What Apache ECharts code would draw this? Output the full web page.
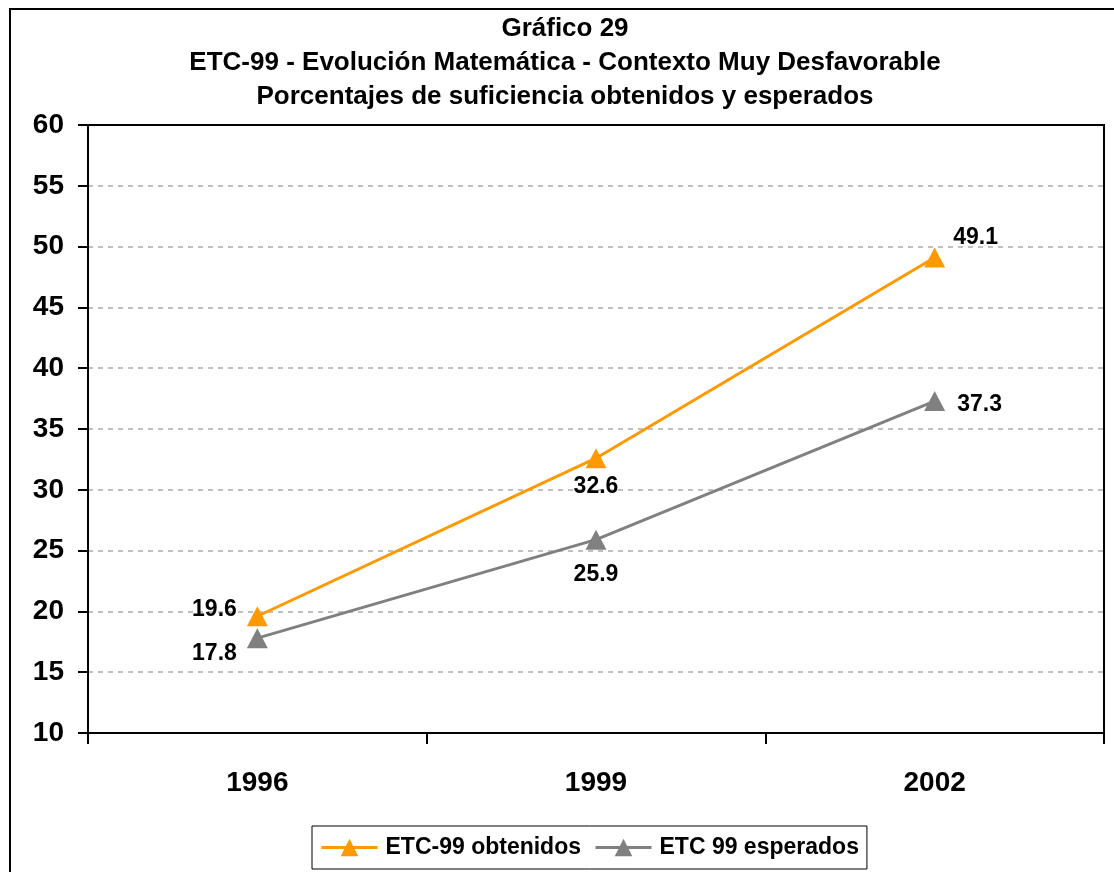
<!DOCTYPE html>
<html>
<head>
<meta charset="utf-8">
<script src="https://cdn.jsdelivr.net/npm/echarts@6/dist/echarts.min.js"></script>
<style>
    html, body { margin: 0; padding: 0; background: #fff; }
    #chart1 { width: 1114px; height: 872px; }
</style>
</head>
<body>
<div id="chart1"></div>
<script>
    // datos del gráfico
    var years = ['1996', '1999', '2002'];
    var obtenidos = [19.6, 32.6, 49.1];
    var esperados = [17.8, 25.9, 37.3];
    var seriesNames = ['ETC-99 obtenidos', 'ETC 99 esperados'];

    // posición de las etiquetas de cada punto
    var labelsObt = [
        {position: 'left', distance: 10, offset: [0, -7]},
        {position: 'bottom', distance: 7},
        {position: 'right', distance: 8, offset: [0, -20]}
    ];
    var labelsEsp = [
        {position: 'left', distance: 10, offset: [0, 16]},
        {position: 'bottom', distance: 14},
        {position: 'right', distance: 12, offset: [0, 4]}
    ];

    var font = '"Liberation Sans", Arial, sans-serif';

    var myChart = echarts.init(document.getElementById('chart1'));
    var option = {
        animation: false,
        textStyle: {fontFamily: font},
        title: {
            text: 'Gráfico 29\nETC-99 - Evolución Matemática - Contexto Muy Desfavorable\nPorcentajes de suficiencia obtenidos y esperados',
            left: 565,
            textAlign: 'center',
            top: 12,
            padding: 0,
            textStyle: {
                fontFamily: font,
                fontSize: 26,
                fontWeight: 'bold',
                color: '#000',
                lineHeight: 34
            }
        },
        graphic: [{
            type: 'rect',
            shape: {x: 10, y: 9, width: 1110, height: 870},
            style: {fill: 'none', stroke: '#000', lineWidth: 2},
            silent: true
        }],
        legend: {
            data: seriesNames,
            left: 312,
            top: 826,
            padding: [10, 8],
            itemGap: 13,
            itemWidth: 56,
            itemHeight: 22,
            borderColor: '#000',
            borderWidth: 1,
            lineStyle: {width: 3},
            textStyle: {fontFamily: font, fontSize: 23, fontWeight: 'bold', color: '#000', padding: [0, 0, 0, 3]}
        },
        grid: {
            left: 88,
            top: 125,
            right: 10,
            bottom: 139,
            show: true,
            borderColor: '#000',
            borderWidth: 2
        },
        xAxis: {
            type: 'category',
            data: years,
            boundaryGap: true,
            axisLine: {lineStyle: {color: '#000', width: 2}},
            axisTick: {show: true, length: 11, lineStyle: {color: '#000', width: 2}},
            axisLabel: {
                margin: 36,
                fontFamily: font,
                fontSize: 28,
                fontWeight: 'bold',
                color: '#000'
            }
        },
        yAxis: {
            type: 'value',
            min: 10,
            max: 60,
            interval: 5,
            axisLine: {show: true, lineStyle: {color: '#000', width: 2}},
            axisTick: {show: true, length: 10, lineStyle: {color: '#000', width: 2}},
            axisLabel: {
                margin: 24,
                fontFamily: font,
                fontSize: 28,
                fontWeight: 'bold',
                color: '#000'
            },
            splitLine: {
                show: true,
                showMaxLine: false,
                showMinLine: false,
                lineStyle: {color: '#c0c0c0', width: 2, type: [5, 5]}
            }
        },
        series: [
            {
                name: seriesNames[0],
                type: 'line',
                data: obtenidos.map(function (v, i) { return {value: v, label: labelsObt[i]}; }),
                symbol: 'triangle',
                symbolSize: [21, 20],
                z: 3,
                itemStyle: {color: '#ff9900'},
                lineStyle: {color: '#ff9900', width: 3},
                label: {
                    show: true,
                    fontFamily: font,
                    fontSize: 23,
                    fontWeight: 'bold',
                    color: '#000'
                }
            },
            {
                name: seriesNames[1],
                type: 'line',
                data: esperados.map(function (v, i) { return {value: v, label: labelsEsp[i]}; }),
                symbol: 'triangle',
                symbolSize: [21, 20],
                itemStyle: {color: '#808080'},
                lineStyle: {color: '#808080', width: 3},
                label: {
                    show: true,
                    fontFamily: font,
                    fontSize: 23,
                    fontWeight: 'bold',
                    color: '#000'
                }
            }
        ]
    };
    myChart.setOption(option);
</script>
</body>
</html>
